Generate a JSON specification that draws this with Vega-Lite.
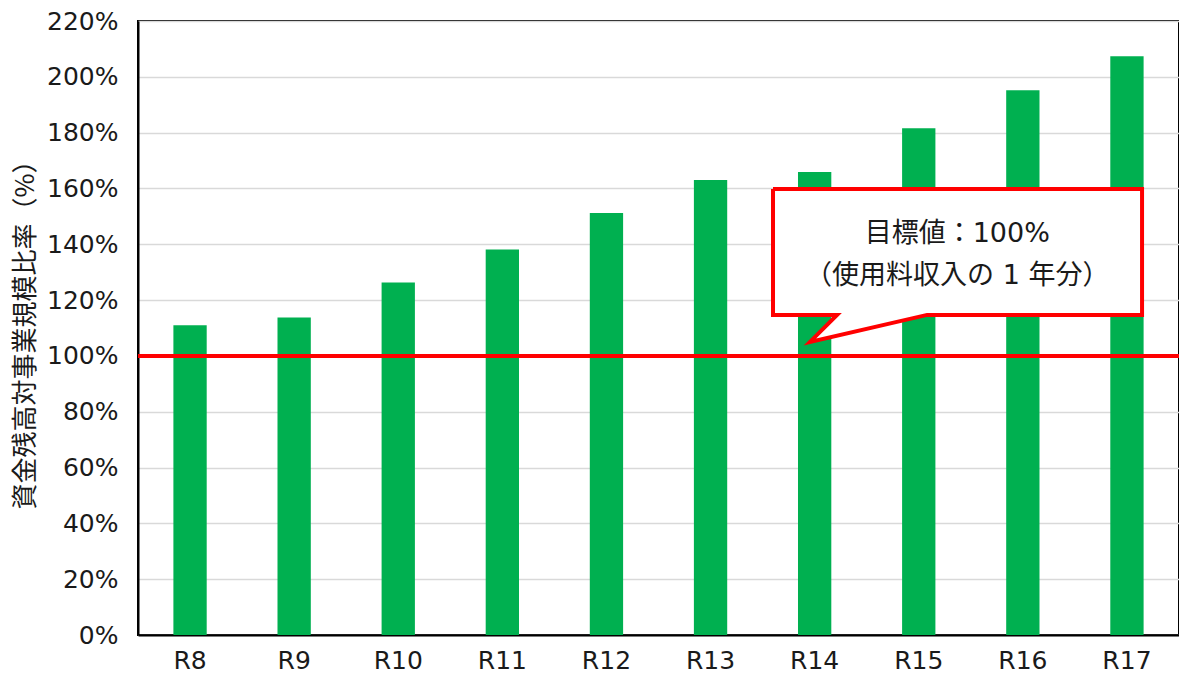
{
  "$schema": "https://vega.github.io/schema/vega-lite/v6.json",
  "width": 1041,
  "height": 614,
  "autosize": {"type": "none"},
  "padding": {"left": 138, "top": 21, "right": 0, "bottom": 42},
  "background": "white",
  "config": {
    "font": "DejaVu Sans, Noto Sans CJK JP",
    "view": {"stroke": "black", "strokeWidth": 2},
    "axis": {"labelFont": "DejaVu Sans, Noto Sans CJK JP", "titleFont": "Noto Sans CJK JP"}
  },
  "datasets": {
    "bars": [
      {"year": "R8", "ratio": 111.0},
      {"year": "R9", "ratio": 113.8},
      {"year": "R10", "ratio": 126.3},
      {"year": "R11", "ratio": 138.1},
      {"year": "R12", "ratio": 151.2},
      {"year": "R13", "ratio": 163.0},
      {"year": "R14", "ratio": 165.9},
      {"year": "R15", "ratio": 181.6},
      {"year": "R16", "ratio": 195.2},
      {"year": "R17", "ratio": 207.4}
    ],
    "target": [{"ratio": 100}],
    "callout": [
      {"i": 0, "cx": 6.10, "cy": 159.8},
      {"i": 1, "cx": 9.645, "cy": 159.8},
      {"i": 2, "cx": 9.645, "cy": 114.7},
      {"i": 3, "cx": 7.58, "cy": 114.7},
      {"i": 4, "cx": 6.455, "cy": 105.0},
      {"i": 5, "cx": 6.715, "cy": 114.7},
      {"i": 6, "cx": 6.10, "cy": 114.7},
      {"i": 7, "cx": 6.10, "cy": 159.8}
    ],
    "labels": [
      {"cx": 7.87, "cy": 143.6, "text": "目標値：100%"},
      {"cx": 7.87, "cy": 128.6, "text": "（使用料収入の 1 年分）"}
    ]
  },
  "layer": [
    {
      "data": {"name": "bars"},
      "mark": {"type": "bar", "color": "#00B050"},
      "encoding": {
        "x": {
          "field": "year", "type": "nominal", "sort": null,
          "scale": {"paddingInner": 0.68, "paddingOuter": 0.34},
          "axis": {
            "title": null, "labelAngle": 0, "labelFontSize": 25, "labelColor": "#1a1a1a",
            "labelPadding": 13, "ticks": false, "domainColor": "black", "domainWidth": 2,
            "grid": false
          }
        },
        "y": {
          "field": "ratio", "type": "quantitative",
          "scale": {"domain": [0, 220], "nice": false},
          "axis": {
            "title": "資金残高対事業規模比率（%）",
            "titleFontSize": 26, "titleFontWeight": "normal", "titleColor": "#1a1a1a", "titlePadding": 8,
            "values": [0, 20, 40, 60, 80, 100, 120, 140, 160, 180, 200, 220],
            "labelExpr": "datum.value + '%'",
            "labelFontSize": 25, "labelColor": "#1a1a1a", "labelPadding": 20,
            "ticks": false, "domainColor": "black", "domainWidth": 2,
            "gridColor": "#d9d9d9", "gridWidth": 1.5
          }
        }
      }
    },
    {
      "data": {"name": "target"},
      "mark": {"type": "rule", "color": "#FF0000", "strokeWidth": 4},
      "encoding": {"y": {"field": "ratio", "type": "quantitative"}}
    },
    {
      "data": {"name": "callout"},
      "mark": {"type": "line", "stroke": "#FF0000", "fill": "white", "strokeWidth": 4, "strokeJoin": "miter"},
      "encoding": {
        "x": {"field": "cx", "type": "quantitative", "scale": {"domain": [0, 10], "nice": false, "zero": false}, "axis": null},
        "y": {"field": "cy", "type": "quantitative"},
        "order": {"field": "i", "type": "quantitative"}
      }
    },
    {
      "data": {"name": "labels"},
      "mark": {"type": "text", "fontSize": 27, "color": "#1a1a1a", "align": "center", "baseline": "middle"},
      "encoding": {
        "x": {"field": "cx", "type": "quantitative", "scale": {"domain": [0, 10], "nice": false, "zero": false}, "axis": null},
        "y": {"field": "cy", "type": "quantitative"},
        "text": {"field": "text"}
      }
    }
  ],
  "resolve": {"scale": {"x": "independent"}}
}
